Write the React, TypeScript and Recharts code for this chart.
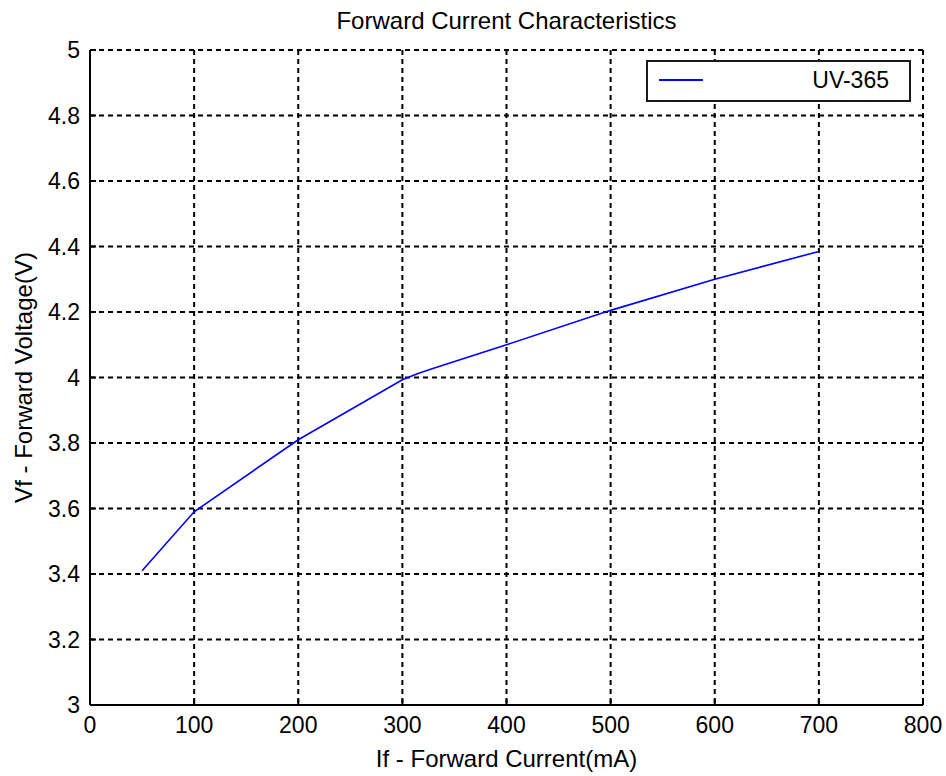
import { LineChart, Line, XAxis, YAxis, CartesianGrid, Legend, Label } from "recharts";

// Forward current (mA) vs forward voltage (V)
const currentMa = [50, 100, 200, 300, 315, 330, 400, 500, 600, 700];
const voltageV = [3.41, 3.59, 3.81, 3.993, 4.012, 4.028, 4.1, 4.205, 4.3, 4.385];
const seriesName = "UV-365";
const chartTitle = "Forward Current Characteristics";

const xTicks = [0, 100, 200, 300, 400, 500, 600, 700, 800];
const yTicks = [3, 3.2, 3.4, 3.6, 3.8, 4, 4.2, 4.4, 4.6, 4.8, 5];

const data = currentMa.map((c, i) => ({ current: c, voltage: voltageV[i] }));

const FONT = "'Liberation Sans', Arial, sans-serif";
const FS = 23;
const LABEL_FS = 24;

function LegendBox() {
  return (
    <div
      style={{
        width: 261,
        height: 38,
        border: "2px solid #1a1a1a",
        background: "#fff",
        position: "relative",
        fontFamily: FONT,
        fontSize: FS,
      }}
    >
      <svg width={50} height={38} style={{ position: "absolute", left: 11, top: 0 }}>
        <line x1={0} y1={18} x2={44} y2={18} stroke="#0000ff" strokeWidth={2} />
      </svg>
      <span style={{ position: "absolute", right: 20, top: 5, lineHeight: "26px", color: "#000" }}>
        {seriesName}
      </span>
    </div>
  );
}

const tickStyle = { fill: "#000", fontSize: FS, fontFamily: FONT };

export default function App() {
  return (
    <div style={{ position: "absolute", left: 0, top: 0, width: 946, height: 776, background: "#fff" }}>
      <div
        style={{
          position: "absolute",
          left: 90,
          top: 8,
          width: 833,
          textAlign: "center",
          fontFamily: FONT,
          fontSize: LABEL_FS,
          lineHeight: "26px",
          color: "#000",
        }}
      >
        {chartTitle}
      </div>
      <LineChart
        width={946}
        height={776}
        data={data}
        margin={{ top: 50, right: 23, bottom: 31, left: 30 }}
      >
        <CartesianGrid stroke="#000" strokeWidth={2} strokeDasharray="5 4" />

        <XAxis
          dataKey="current"
          type="number"
          domain={[0, 800]}
          ticks={xTicks}
          height={40}
          tick={tickStyle}
          tickSize={-6}
          tickMargin={18}
          tickLine={{ stroke: "#000", strokeWidth: 2 }}
          axisLine={{ stroke: "#000", strokeWidth: 2 }}
          interval={0}
        >
          <Label
            content={({ viewBox }: any) => (
              <text
                x={viewBox.x + viewBox.width / 2}
                y={viewBox.y + 62}
                textAnchor="middle"
                fill="#000"
                fontSize={LABEL_FS}
                fontFamily={FONT}
              >
                If - Forward Current(mA)
              </text>
            )}
          />
        </XAxis>
        <XAxis
          xAxisId="top"
          orientation="top"
          type="number"
          domain={[0, 800]}
          ticks={xTicks}
          height={0}
          tick={false}
          tickSize={-6}
          tickLine={{ stroke: "#000", strokeWidth: 2 }}
          axisLine={{ stroke: "#000", strokeWidth: 2 }}
        />

        <YAxis
          type="number"
          domain={[3, 5]}
          ticks={yTicks}
          width={60}
          tick={tickStyle}
          tickSize={-6}
          tickMargin={16}
          tickLine={{ stroke: "#000", strokeWidth: 2 }}
          axisLine={{ stroke: "#000", strokeWidth: 2 }}
          interval={0}
        >
          <Label
            content={({ viewBox }: any) => {
              const cy = viewBox.y + viewBox.height / 2;
              return (
                <text
                  x={32}
                  y={cy}
                  transform={`rotate(-90, 32, ${cy})`}
                  textAnchor="middle"
                  fill="#000"
                  fontSize={LABEL_FS}
                  fontFamily={FONT}
                >
                  Vf - Forward Voltage(V)
                </text>
              );
            }}
          />
        </YAxis>
        <YAxis
          yAxisId="right"
          orientation="right"
          type="number"
          domain={[3, 5]}
          ticks={yTicks}
          width={0}
          tick={false}
          tickSize={-6}
          tickLine={{ stroke: "#000", strokeWidth: 2 }}
          axisLine={{ stroke: "#000", strokeWidth: 2 }}
        />

        <Legend
          layout="vertical"
          align="center"
          verticalAlign="middle"
          content={() => <LegendBox />}
          wrapperStyle={{ position: "absolute", left: 646, top: 60, width: "auto" }}
        />

        <Line
          type="linear"
          dataKey="voltage"
          name={seriesName}
          stroke="#0000ff"
          strokeWidth={1.6}
          dot={false}
          isAnimationActive={false}
        />
      </LineChart>
    </div>
  );
}
